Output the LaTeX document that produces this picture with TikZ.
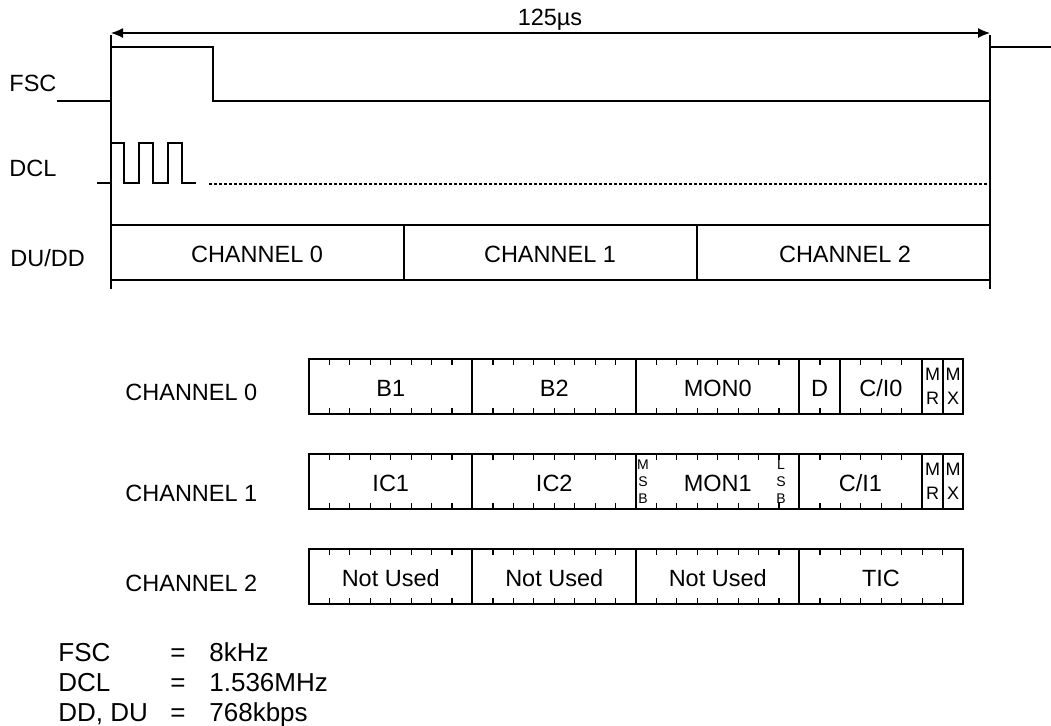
\documentclass[tikz,border=0pt]{standalone}
\usepackage{fontspec}
\setmainfont{Liberation Sans}
\usetikzlibrary{arrows.meta}
\newcommand\drawbitticks[2]{%
  \foreach \k in {#2}{%
    \draw[tickline] ({309+\k*20.4375},#1) -- ++(0,6);
    \draw[tickline] ({309+\k*20.4375},{#1+55}) -- ++(0,-6);
  }}
\begin{document}
\begin{tikzpicture}[x=0.5pt,y=-0.5pt,
  thinline/.style={line width=0.6pt},
  thickline/.style={line width=1.1pt},
  tickline/.style={line width=0.6pt},
  lbl/.style={font=\fontsize{11.75}{13}\selectfont, inner sep=0pt},
  biglbl/.style={font=\fontsize{13}{15}\selectfont, inner sep=0pt, anchor=base west},
  tinylbl/.style={font=\fontsize{7}{8}\selectfont, inner sep=0pt},
  smalllbl/.style={font=\fontsize{9}{10}\selectfont, inner sep=0pt}]
\useasboundingbox (0,0) rectangle (1051,725);

% ---- top timing part ----
\coordinate (tL) at (111,33);
\coordinate (tR) at (990,33);
\draw[thinline, {Latex[length=6pt,width=5pt]}-{Latex[length=6pt,width=5pt]}] (tL) -- (tR);
\node[lbl] (period) at (550,20) {125µs};
\draw[thinline] (111,35) -- (111,289);
\draw[thinline] (990,35) -- (990,289);

\node[lbl, anchor=west] (fsc) at (9,83) {FSC};
\draw[thickline] (57,101) -- (111,101) -- (111,47) -- (213,47) -- (213,101) -- (990,101) -- (990,47) -- (1051,47);

\node[lbl, anchor=west] (dcl) at (9,168) {DCL};
\draw[thickline] (97,183) -- (111,183) -- (111,143) -- (124,143) -- (124,183) -- (139,183) -- (139,143) -- (153,143) -- (153,183) -- (168,183) -- (168,143) -- (182,143) -- (182,183) -- (196,183);
\draw[thinline, dash pattern=on 1.5pt off 1pt] (209,184) -- (990,184);

\node[lbl, anchor=west] (dudd) at (10,258) {DU/DD};
\draw[thickline] (111,225) rectangle (990,280);
\draw[thickline] (404,225) -- (404,280) (697,225) -- (697,280);
\node[lbl] (tc0) at (257,254) {CHANNEL 0};
\node[lbl] (tc1) at (550,254) {CHANNEL 1};
\node[lbl] (tc2) at (845,254) {CHANNEL 2};

% ---- channel 0 ----
\node[lbl, anchor=west] (c0) at (125,392) {CHANNEL 0};
\draw[thickline] (309,359) rectangle (963,414);
\draw[thickline] (472,359) -- (472,414) (636,359) -- (636,414) (799,359) -- (799,414);
\draw[thinline] (840,359) -- (840,414) (922,359) -- (922,414) (943,359) -- (943,414);
\drawbitticks{359}{1,2,3,4,5,6,7,9,10,11,12,13,14,15,17,18,19,20,21,22,23,25,27,28,29}
\node[lbl] (b1) at (390.75,388) {B1};
\node[lbl] (b2) at (554.25,388) {B2};
\node[lbl] (mon0) at (717.75,388) {MON0};
\node[lbl] (d0) at (819.5,388) {D};
\node[lbl] (ci0) at (881,388) {C/I0};
\node[smalllbl] (mr0m) at (932.5,374) {M};
\node[smalllbl] (mr0r) at (932.5,398) {R};
\node[smalllbl] (mx0m) at (953,374) {M};
\node[smalllbl] (mx0x) at (953,398) {X};

% ---- channel 1 ----
\node[lbl, anchor=west] (c1) at (125,493) {CHANNEL 1};
\draw[thickline] (309,454) rectangle (963,509);
\draw[thickline] (472,454) -- (472,509) (636,454) -- (636,509) (799,454) -- (799,509);
\draw[thinline] (922,454) -- (922,509) (943,454) -- (943,509);
\drawbitticks{454}{1,2,3,4,5,6,7,9,10,11,12,13,14,15,17,18,19,20,21,22,23,25,26,27,28,29}
\node[lbl] (ic1) at (390.75,483) {IC1};
\node[lbl] (ic2) at (554.25,483) {IC2};
\node[lbl] (mon1) at (717.75,483) {MON1};
\node[lbl] (ci1) at (860.5,483) {C/I1};
\node[tinylbl] (msbm) at (643,465) {M};
\node[tinylbl] (msbs) at (643,482) {S};
\node[tinylbl] (msbb) at (643,499) {B};
\node[tinylbl] (lsbl) at (781,465) {L};
\node[tinylbl] (lsbs) at (781,482) {S};
\node[tinylbl] (lsbb) at (781,499) {B};
\node[smalllbl] (mr1m) at (932.5,469) {M};
\node[smalllbl] (mr1r) at (932.5,493) {R};
\node[smalllbl] (mx1m) at (953,469) {M};
\node[smalllbl] (mx1x) at (953,493) {X};

% ---- channel 2 ----
\node[lbl, anchor=west] (c2) at (125,583) {CHANNEL 2};
\draw[thickline] (309,549) rectangle (963,604);
\draw[thickline] (472,549) -- (472,604) (636,549) -- (636,604) (799,549) -- (799,604);
\drawbitticks{549}{1,2,3,4,5,6,7,9,10,11,12,13,14,15,17,18,19,20,21,22,23,25,26,27,28,29,30,31}
\node[lbl] (nu1) at (390.75,578) {Not Used};
\node[lbl] (nu2) at (554.25,578) {Not Used};
\node[lbl] (nu3) at (717.75,578) {Not Used};
\node[lbl] (tic) at (881,578) {TIC};

% ---- legend ----
\node[biglbl] (k1) at (58,661) {FSC};
\node[biglbl] (k2) at (58,691) {DCL};
\node[biglbl] (k3) at (58,721) {DD, DU};
\node[biglbl, anchor=base] (e1) at (178,661) {=};
\node[biglbl, anchor=base] (e2) at (178,691) {=};
\node[biglbl, anchor=base] (e3) at (178,721) {=};
\node[biglbl] (v1) at (209,661) {8kHz};
\node[biglbl] (v2) at (209,691) {1.536MHz};
\node[biglbl] (v3) at (209,721) {768kbps};
\end{tikzpicture}
\end{document}
